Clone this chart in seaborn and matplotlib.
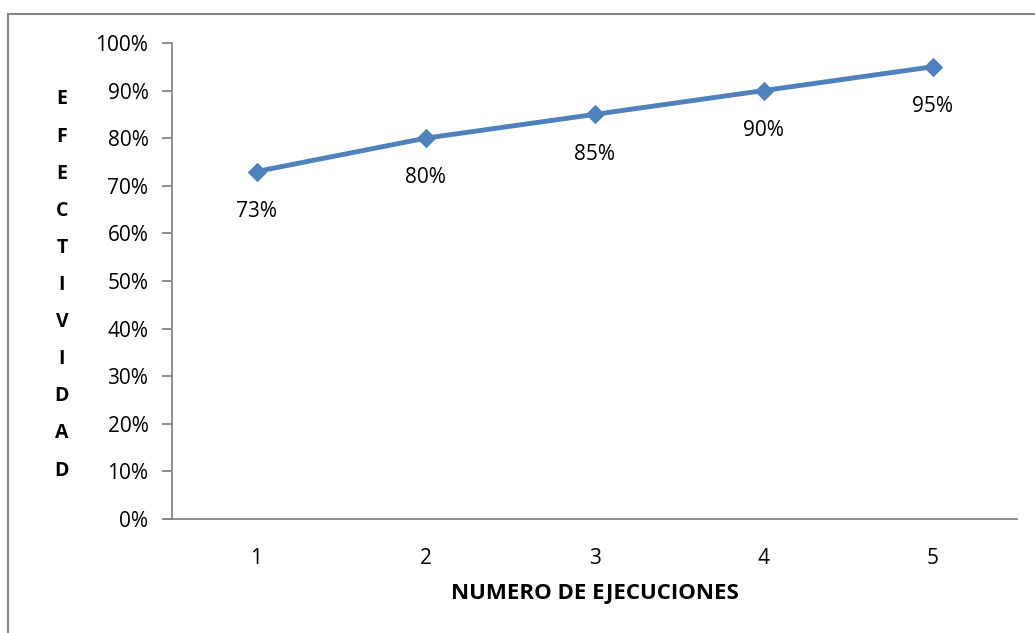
import matplotlib
matplotlib.use("Agg")
import matplotlib.pyplot as plt
import matplotlib.patches as mpatches
import seaborn as sns
import pandas as pd

# Datos
ejecuciones = [1, 2, 3, 4, 5]
efectividad = [0.73, 0.80, 0.85, 0.90, 0.95]
etiquetas = ["73%", "80%", "85%", "90%", "95%"]
yticks = [0, 0.1, 0.2, 0.3, 0.4, 0.5, 0.6, 0.7, 0.8, 0.9, 1.0]
ytick_labels = ["0%", "10%", "20%", "30%", "40%", "50%", "60%", "70%", "80%", "90%", "100%"]

df = pd.DataFrame({"Ejecucion": ejecuciones, "Efectividad": efectividad})

sns.set_style("white")
plt.rcParams['font.family'] = ['Open Sans', 'DejaVu Sans']

fig = plt.figure(figsize=(10.35, 6.33), dpi=100)
ax = fig.add_axes([172 / 1035, 1 - 519 / 633, 845 / 1035, 476 / 633])

sns.lineplot(data=df, x="Ejecucion", y="Efectividad", ax=ax, color="#4F81BD",
             linewidth=3.5, marker="D", markersize=9, markeredgecolor="#4F81BD")

for x, y, t in zip(ejecuciones, efectividad, etiquetas):
    ax.annotate(t, (x, y), xytext=(0, -21), textcoords="offset points",
                ha="center", va="top", fontsize=15, color="#000000")

ax.set_xlim(0.5, 5.5)
ax.set_ylim(0, 1.0)
ax.set_xticks(ejecuciones)
ax.set_xticklabels([str(e) for e in ejecuciones], fontsize=15, color="#000000")
ax.set_yticks(yticks)
ax.set_yticklabels(ytick_labels, fontsize=15, color="#000000")
ax.tick_params(axis="y", direction="out", length=7, width=1.3, color="#868686", pad=10, left=True)
ax.tick_params(axis="x", length=0, pad=21)

for s in ["top", "right"]:
    ax.spines[s].set_visible(False)
for s in ["left", "bottom"]:
    ax.spines[s].set_color("#868686")
    ax.spines[s].set_linewidth(1.3)
ax.spines["bottom"].set_bounds(0.5 - 8 / 169, 5.5)

ax.set_xlabel("NUMERO DE EJECUCIONES", fontsize=16, fontweight="bold", labelpad=10, color="#000000")
ax.set_ylabel("")
fig.text(62 / 1035, 1 - 285 / 633, "\n".join("EFECTIVIDAD"), ha="center", va="center",
         fontsize=14, fontweight="bold", linespacing=2.14, color="#000000")

# marco del grafico
frame = mpatches.Rectangle((8 / 1035, -0.1), 1.2, 1 - 14 / 633 + 0.1, transform=fig.transFigure,
                           fill=False, edgecolor="#868686", linewidth=1.5)
fig.patches.append(frame)

fig.savefig("out.png", dpi=100)
